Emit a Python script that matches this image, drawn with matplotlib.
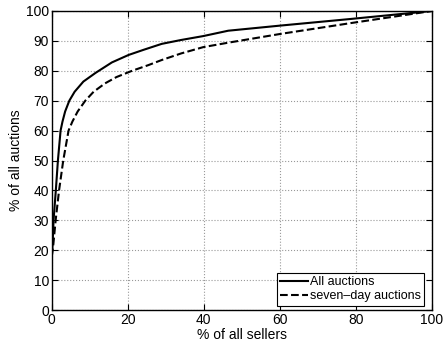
import matplotlib
matplotlib.use('Agg')
import matplotlib.pyplot as plt

plt.rcParams['font.family'] = ['Liberation Sans', 'DejaVu Sans']
plt.rcParams['font.size'] = 10

# % of sellers vs % of auctions
all_x = [0, 0.2, 0.45, 1.05, 1.6, 2.3, 2.8, 3.5, 4.6, 6.0, 8.3, 11.5,
         15.8, 20.2, 24.1, 28.9, 34, 39.8, 46.4, 60, 78.4, 100]
all_y = [18, 22, 30, 40, 50, 60, 63, 66.4, 70, 73, 76.4, 79.3,
         82.8, 85.3, 87.0, 89.0, 90.3, 91.6, 93.4, 95.1, 97.3, 100]

week_x = [0, 0.4, 1.0, 1.9, 3.0, 4.4, 5.4, 6.8, 8.8, 11.0, 14.0, 17.0,
          21.1, 25.4, 28.9, 34, 39.8, 46.4, 60, 78.4, 100]
week_y = [18, 22, 30, 40, 50, 60, 63, 66.4, 70, 73, 75.8, 77.9,
          80, 81.9, 83.6, 85.8, 87.9, 89.4, 92.3, 95.9, 100]

fig = plt.figure(figsize=(4.43, 3.43), dpi=100)
ax = fig.add_axes([0.117, 0.096, 0.858, 0.872])

ax.plot(all_x, all_y, 'k-', lw=1.5, label='All auctions')
ax.plot(week_x, week_y, 'k--', lw=1.5, label='seven\u2013day auctions')

ax.set_xlim(0, 100)
ax.set_ylim(0, 100)
ax.set_xticks(range(0, 101, 20))
ax.set_yticks(range(0, 101, 10))
ax.grid(True, linestyle=':', color='#999999', lw=0.8)
ax.tick_params(direction='in', top=True, right=True, length=4, pad=2)
for s in ax.spines.values():
    s.set_linewidth(1.0)

ax.set_xlabel('% of all sellers', labelpad=1)
ax.set_ylabel('% of all auctions', labelpad=2)

leg = ax.legend(loc='lower right', bbox_to_anchor=(0.98, 0.015), fontsize=9,
                fancybox=False, framealpha=1, edgecolor='black',
                handlelength=2.2, handletextpad=0.2, borderpad=0.25, labelspacing=0.2,
                borderaxespad=0)
leg.get_frame().set_linewidth(0.8)

fig.savefig('out.png', dpi=100)
